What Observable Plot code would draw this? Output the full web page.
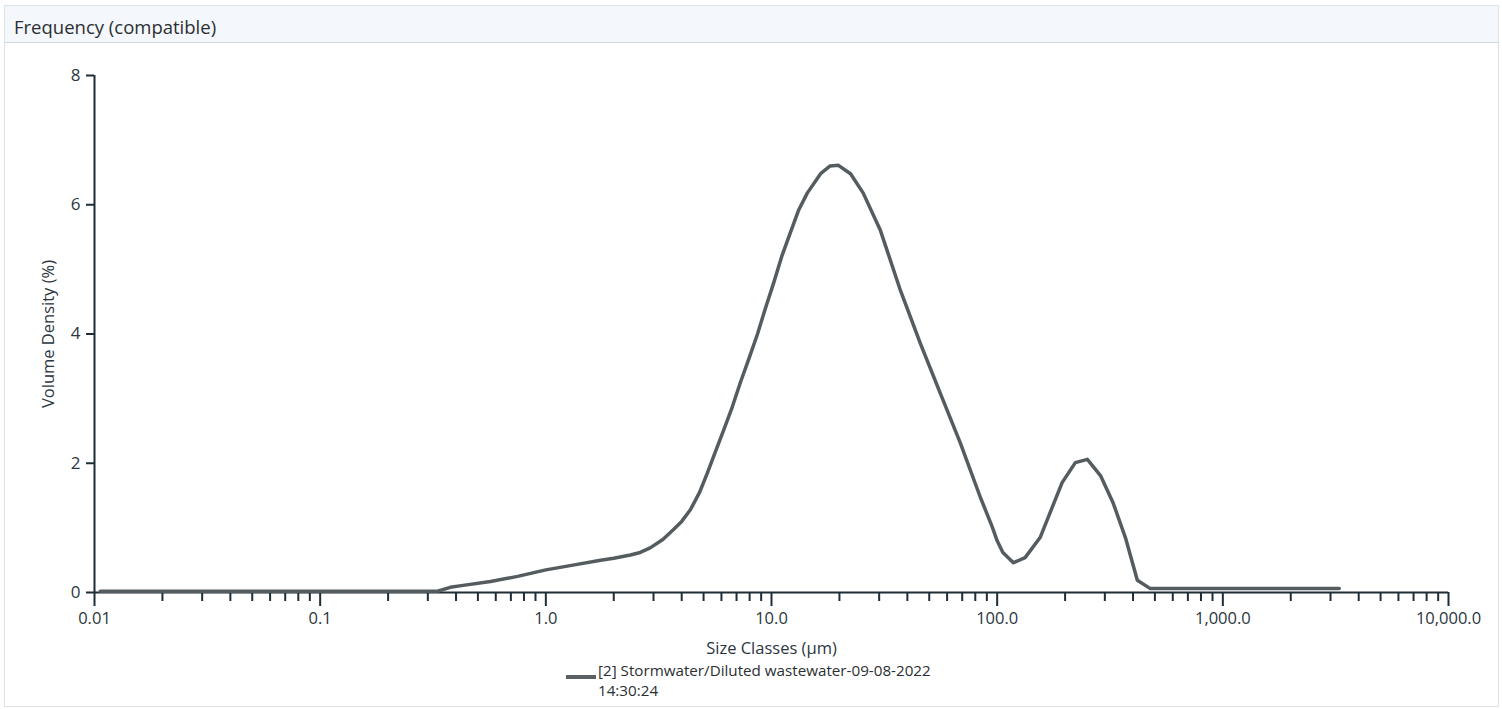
<!DOCTYPE html>
<html>
<head>
<meta charset="utf-8">
<script src="https://cdn.jsdelivr.net/npm/d3@7"></script>
<script src="https://cdn.jsdelivr.net/npm/@observablehq/plot@0.6"></script>
<style>
  html, body { margin: 0; padding: 0; background: #ffffff; }
  body { width: 1502px; height: 709px; overflow: hidden; font-family: "Open Sans", "Noto Sans", sans-serif; }
  #frame { position: absolute; left: 4px; top: 5px; width: 1495px; height: 702px; border: 1px solid #dde2e7; box-sizing: border-box; }
  #header { position: absolute; left: 4px; top: 5px; width: 1495px; height: 38px; background: #f4f7fb; border: 1px solid #dde2e7; border-bottom: 1px solid #cfd6de; box-sizing: border-box; }
  #title { position: absolute; left: 14px; top: 14px; font-size: 18.5px; color: #2b2f33; }
  #chart { position: absolute; left: 0; top: 43px; }
  #legend { position: absolute; left: 566px; top: 660px; font-size: 15.2px; color: #2b2f33; line-height: 20px; }
  #legend .sw { position: absolute; left: 0; top: 15px; width: 30px; height: 4px; background: #5b6064; }
  #legend .tx { position: absolute; left: 32px; top: 0; white-space: nowrap; }
  #chart g[aria-label="x-axis tick label"] text { font-size: 16.5px; }
  #chart g[aria-label="y-axis tick label"] text { font-size: 17px; }
  #chart g[aria-label="x-axis label"] text, #chart g[aria-label="y-axis label"] text { font-size: 16.5px; }
</style>
</head>
<body>
<div id="frame"></div>
<div id="header"></div>
<div id="title">Frequency (compatible)</div>
<div id="chart"></div>
<div id="legend"><div class="sw"></div><div class="tx">[2] Stormwater/Diluted wastewater-09-08-2022<br>14:30:24</div></div>
<script>
// Size classes (µm) and volume density (%)
const sizes = [0.0106, 0.02, 0.05, 0.1, 0.2, 0.331, 0.377, 0.43, 0.569, 0.75, 1.0, 1.3, 1.75, 2.0, 2.37, 2.62, 2.9, 3.3, 3.67, 4.0, 4.37, 4.8, 5.2, 5.6, 6.12, 6.7, 7.28, 8.0, 8.67, 9.4, 10.2, 11.1, 12.1, 13.2, 14.4, 16.5, 18.2, 19.8, 22.4, 25.5, 30.4, 37.3, 45.7, 56.0, 68.7, 84.3, 95, 100, 106, 118, 133, 155, 194, 222, 251, 287, 327, 370, 418, 477, 1000, 3280];
const density = [0.02, 0.02, 0.02, 0.02, 0.02, 0.02, 0.08, 0.11, 0.17, 0.25, 0.35, 0.42, 0.5, 0.53, 0.58, 0.62, 0.69, 0.82, 0.97, 1.1, 1.28, 1.55, 1.85, 2.15, 2.5, 2.87, 3.25, 3.65, 4.0, 4.4, 4.78, 5.2, 5.56, 5.92, 6.18, 6.48, 6.6, 6.61, 6.48, 6.18, 5.6, 4.67, 3.85, 3.08, 2.31, 1.47, 1.02, 0.8, 0.62, 0.46, 0.54, 0.85, 1.70, 2.01, 2.06, 1.81, 1.38, 0.85, 0.19, 0.06, 0.06, 0.06];
const majorTicks = [0.01, 0.1, 1, 10, 100, 1000, 10000];
const majorLabels = ["0.01", "0.1", "1.0", "10.0", "100.0", "1,000.0", "10,000.0"];
const minorTicks = [0.02,0.03,0.04,0.05,0.06,0.07,0.08,0.09, 0.2,0.3,0.4,0.5,0.6,0.7,0.8,0.9, 2,3,4,5,6,7,8,9, 20,30,40,50,60,70,80,90, 200,300,400,500,600,700,800,900, 2000,3000,4000,5000,6000,7000,8000,9000];
const yTicks = [0, 2, 4, 6, 8];
const yLabels = ["0", "2", "4", "6", "8"];
const seriesName = "[2] Stormwater/Diluted wastewater-09-08-2022 14:30:24";

const data = sizes.map((s, i) => ({size: s, v: density[i], series: seriesName}));
const labelOf = new Map(majorTicks.map((t, i) => [t, majorLabels[i]]));
const yLabelOf = new Map(yTicks.map((t, i) => [t, yLabels[i]]));
const axisColor = "#1f2d36";

const chart = Plot.plot({
  width: 1502,
  height: 617,
  marginLeft: 94,
  marginRight: 54,
  marginTop: 32,
  marginBottom: 68,
  style: {fontFamily: "'Open Sans', 'Noto Sans', sans-serif", fontSize: "15px", color: "#2b2f33", background: "transparent"},
  x: {type: "log", domain: [0.01, 10000]},
  y: {domain: [0, 8]},
  marks: [
    Plot.axisX(minorTicks, {tickSize: 9, stroke: axisColor, strokeWidth: 2, strokeOpacity: 1, tickFormat: null, text: null, label: null}),
    Plot.axisX(majorTicks, {tickSize: 14, stroke: axisColor, strokeWidth: 2, strokeOpacity: 1, tickPadding: 6, tickFormat: d => labelOf.get(d), fill: "#2b3640",
      label: "Size Classes (µm)", labelAnchor: "center", labelArrow: "none", labelOffset: 61}),
    Plot.axisY(yTicks, {tickSize: 8, stroke: axisColor, strokeWidth: 2, strokeOpacity: 1, tickPadding: 6, tickFormat: d => yLabelOf.get(d), fill: "#2b3640",
      label: "Volume Density (%)", labelAnchor: "center", labelArrow: "none", labelOffset: 52}),
    Plot.ruleY([0], {x1: 0.01, x2: 10000, stroke: axisColor, strokeWidth: 2}),
    Plot.ruleX([0.01], {y1: 0, y2: 8, stroke: axisColor, strokeWidth: 2}),
    Plot.line(data, {x: "size", y: "v", stroke: "#555c60", strokeWidth: 3.5, strokeLinejoin: "round"})
  ]
});
document.getElementById("chart").appendChild(chart);
</script>
</body>
</html>
